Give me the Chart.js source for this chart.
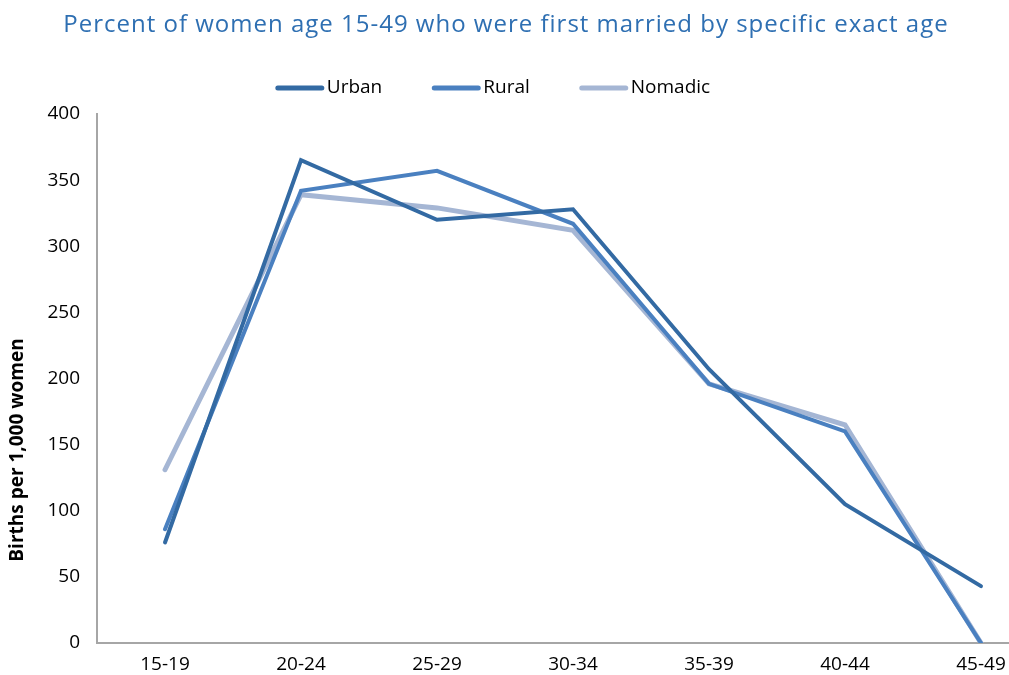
<!DOCTYPE html>
<html>
<head>
<meta charset="utf-8">
<script src="https://cdn.jsdelivr.net/npm/chart.js@4"></script>
<style>
  html, body { margin:0; padding:0; background:#fff; overflow:hidden; }
  #wrap { width:1009px; height:675px; }
</style>
</head>
<body>
<div id="wrap"><canvas id="chart" width="1009" height="675"></canvas></div>
<script>
const ageGroups = ["15-19","20-24","25-29","30-34","35-39","40-44","45-49"];
const urban   = [76, 365, 320, 328, 207, 105, 43];
const rural   = [86, 342, 357, 317, 196, 160, 0];
const nomadic = [131, 339, 329, 312, 196, 165, 0];
const yTicks  = [0, 50, 100, 150, 200, 250, 300, 350, 400];

const FONT = "'Open Sans', 'DejaVu Sans', sans-serif";
const TITLE = "Percent of women age 15-49 who were first married by specific exact age";

function points(vals){ return vals.map((v,i)=>({x:i, y:v})); }

// title, legend and y axis title drawn by hand so they sit where the original has them
const decor = {
  id:"decor",
  afterDraw(chart){
    const c = chart.ctx;
    c.save();
    // title
    c.font = "24px " + FONT;
    c.letterSpacing = "1px";
    c.fillStyle = "#2e6fb2";
    c.textAlign = "center";
    c.textBaseline = "middle";
    c.fillText(TITLE, 506, 25);
    c.letterSpacing = "0px";

    // legend
    c.font = "19px " + FONT;
    c.textAlign = "left";
    const lineLen = 48, gap = 3, spacing = 50;
    const items = chart.data.datasets.map(d=>({d, w: lineLen + gap + c.measureText(d.label).width}));
    const total = items.reduce((a,it)=>a+it.w,0) + spacing*(items.length-1);
    let x = 493 - total/2;
    const y = 88;
    items.forEach(it=>{
      c.strokeStyle = it.d.borderColor;
      c.lineWidth = 5;
      c.lineCap = "round";
      c.beginPath(); c.moveTo(x+2, y); c.lineTo(x+lineLen-2, y); c.stroke();
      c.fillStyle = "#000";
      c.fillText(it.d.label, x + lineLen + gap, y);
      x += it.w + spacing;
    });

    // y axis title
    c.translate(18, 450);
    c.rotate(-Math.PI/2);
    c.font = "bold 19px " + FONT;
    c.fillStyle = "#000";
    c.textAlign = "center";
    c.fillText("Births per 1,000 women", 0, 0);
    c.restore();
  }
};

new Chart(document.getElementById("chart"), {
  type:"line",
  data:{
    datasets:[
      {label:"Urban", data:points(urban), borderColor:"#336aa3", backgroundColor:"#336aa3", borderWidth:4},
      {label:"Rural", data:points(rural), borderColor:"#4a80c0", backgroundColor:"#4a80c0", borderWidth:4},
      {label:"Nomadic", data:points(nomadic), borderColor:"#a5b6d4", backgroundColor:"#a5b6d4", borderWidth:5}
    ]
  },
  options:{
    responsive:false,
    animation:false,
    elements:{ point:{ radius:0 }, line:{ tension:0, borderCapStyle:"round" } },
    layout:{ padding:{ left:0, right:0, top:114, bottom:0 } },
    plugins:{
      title:{ display:false },
      legend:{ display:false },
      tooltip:{ enabled:false }
    },
    scales:{
      x:{
        type:"linear",
        min:-0.5, max:6.206,
        grid:{ display:false },
        border:{ display:true, color:"#a6a6a6", width:2 },
        afterBuildTicks(s){ s.ticks = ageGroups.map((_,i)=>({value:i})); },
        afterFit(s){ s.height = 32; s.paddingLeft = 0; s.paddingRight = 0; },
        ticks:{
          color:"#000", font:{ family:FONT, size:19 }, padding:2, maxRotation:0,
          callback:(v)=>ageGroups[v]
        }
      },
      y:{
        min:0, max:400,
        grid:{ display:false },
        border:{ display:true, color:"#a6a6a6", width:2 },
        afterBuildTicks(s){ s.ticks = yTicks.map(v=>({value:v})); },
        afterFit(s){ s.width = 97; },
        ticks:{ color:"#000", font:{ family:FONT, size:19 }, padding:9 }
      }
    }
  },
  plugins:[decor]
});
</script>
</body>
</html>
